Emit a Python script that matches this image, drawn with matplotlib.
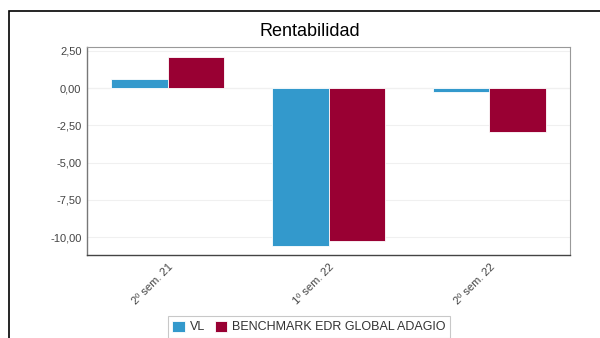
import numpy as np
import matplotlib.pyplot as plt
from matplotlib.patches import Rectangle

plt.rcParams['font.family'] = ['Liberation Sans', 'DejaVu Sans']

# datos
categorias = ["2º sem. 21", "1º sem. 22", "2º sem. 22"]
vl = [0.60, -10.60, -0.30]
benchmark = [2.10, -10.25, -2.92]
series = ["VL", "BENCHMARK EDR GLOBAL ADAGIO"]
yticks = [2.5, 0.0, -2.5, -5.0, -7.5, -10.0]

azul = "#3399cc"
granate = "#990033"

fig = plt.figure(figsize=(6, 3.38), dpi=100)
fig.patch.set_facecolor("white")

# marco exterior (se corta por la derecha y por abajo)
fig.patches.append(Rectangle((9/600, -0.1), 1.2, 1 - 11/338 + 0.1,
                             transform=fig.transFigure, fill=False,
                             edgecolor="black", linewidth=1.2))

ax = fig.add_axes([87/600, 1 - 255/338, (570-87)/600, (255-47)/338])

x = np.arange(len(categorias))
w = 0.35
ax.bar(x - w/2, vl, w, color=azul, edgecolor="white", linewidth=0.6, label=series[0], zorder=3)
ax.bar(x + w/2, benchmark, w, color=granate, edgecolor="white", linewidth=0.6, label=series[1], zorder=3)

ax.set_xlim(-0.5, 2.5)
ax.set_ylim(-11.2, 2.75)
ax.set_yticks(yticks)
ax.set_yticklabels([("%.2f" % v).replace(".", ",") for v in yticks], fontsize=8, color="#444444")
ax.set_xticks(x)
ax.set_xticklabels(categorias, rotation=45, ha="right", va="top", fontsize=8,
                   color="#444444", rotation_mode="anchor")
ax.tick_params(axis="y", length=0, pad=4)
ax.tick_params(axis="x", length=0, pad=5)
ax.grid(axis="y", color="#f0f0f0", linewidth=0.8, zorder=0)
ax.axhline(0, color="#dddddd", linewidth=0.8, zorder=1)

for s in ["top", "right"]:
    ax.spines[s].set_color("#999999")
    ax.spines[s].set_linewidth(0.8)
ax.spines["left"].set_color("#777777")
ax.spines["bottom"].set_color("#444444")
ax.spines["left"].set_linewidth(1.0)
ax.spines["bottom"].set_linewidth(1.0)

fig.text(310/600, 1 - 32/338, "Rentabilidad", ha="center", va="center", fontsize=13)

leg = fig.legend(loc="center", bbox_to_anchor=(309/600, 1 - 327/338), ncol=2,
                 fontsize=9, frameon=True, fancybox=False, handlelength=1.0,
                 handleheight=1.0, handletextpad=0.4, columnspacing=0.8,
                 borderpad=0.35)
leg.get_frame().set_edgecolor("#bbbbbb")
leg.get_frame().set_linewidth(0.8)
for t in leg.get_texts():
    t.set_color("#333333")

fig.savefig("out.png", dpi=100, facecolor="white")
